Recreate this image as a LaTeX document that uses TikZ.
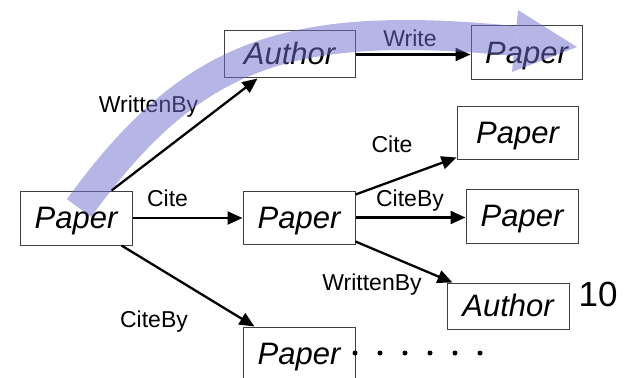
\documentclass[tikz,border=0pt]{standalone}
\usepackage{fontspec}
\setmainfont{Liberation Sans}
\usetikzlibrary{arrows.meta}
\definecolor{bandcol}{RGB}{110,110,205}
\tikzset{
  box/.style={draw=black!75, line width=1pt, inner sep=0pt, align=center,
    font=\fontsize{31}{31}\selectfont\itshape, text height=22pt, text depth=1pt},
  lbl/.style={font=\fontsize{23}{23}\selectfont, inner sep=0pt, anchor=base},
  link/.style={line width=2.3pt, -{Triangle[length=15pt,width=13pt]}},
  dotmark/.style={fill=black, circle, inner sep=0pt, minimum size=5pt}
}
\begin{document}
\begin{tikzpicture}[x=1pt,y=-1pt]
\useasboundingbox (0,0) rectangle (631,377);
\begin{scope}
\clip (0,0) rectangle (631,377);
% nodes
\node[box, minimum width=112pt, minimum height=54pt] (P0) at (76,218) {Paper};
\node[box, minimum width=131pt, minimum height=47pt] (A1) at (289.5,54.5) {Author};
\node[box, minimum width=111pt, minimum height=54pt] (P1) at (526.5,53) {Paper};
\node[box, minimum width=121pt, minimum height=52pt] (P2) at (517.5,133) {Paper};
\node[box, minimum width=112pt, minimum height=53pt] (PM) at (299,217.5) {Paper};
\node[box, minimum width=112pt, minimum height=54pt] (P3) at (522,216) {Paper};
\node[box, minimum width=122pt, minimum height=46pt] (A2) at (508,306) {Author};
\node[box, minimum width=112pt, minimum height=54pt] (PB) at (299,354) {Paper};
\end{scope}
% connectors
\draw[link] ([xshift=-21pt]P0.north east) -- ([xshift=34pt]A1.south west);
\draw[link] (A1.east) -- (A1.east -| P1.west);
\draw[link] (P0.east) -- (P0.east -| PM.west);
\draw[link] ([xshift=-11pt]P0.south east) -- ([xshift=12pt]PB.north west);
\draw[link] ([yshift=-4pt]PM.north east) -- ([yshift=2pt]P2.south west);
\draw[link] (PM.east) -- (PM.east -| P3.west);
\draw[link] ([yshift=3pt]PM.south east) -- ([xshift=6pt]A2.north west);
% labels
\node[lbl] (lwb1) at (148.5,113) {WrittenBy};
\node[lbl] (lw) at (410,47) {Write};
\node[lbl] (lc1) at (167.5,206) {Cite};
\node[lbl] (lcb1) at (154,327) {CiteBy};
\node[lbl] (lc2) at (392,152) {Cite};
\node[lbl] (lcb2) at (410,206) {CiteBy};
\node[lbl] (lwb2) at (372,290) {WrittenBy};
\node[lbl, font=\fontsize{35}{35}\selectfont] (ten) at (598,306) {10};
% dots
\foreach \i in {0,...,5} { \node[dotmark] (d\i) at (355+25*\i,353) {}; }
% big translucent arrow
\begin{scope}[opacity=0.5]
\draw[bandcol, line width=30pt, line cap=butt] (79,208) .. controls (191,54) and (286,19) .. (515,41);
\fill[bandcol] (518,10) -- (577,47) -- (512,72) -- cycle;
\end{scope}
\end{tikzpicture}
\end{document}
